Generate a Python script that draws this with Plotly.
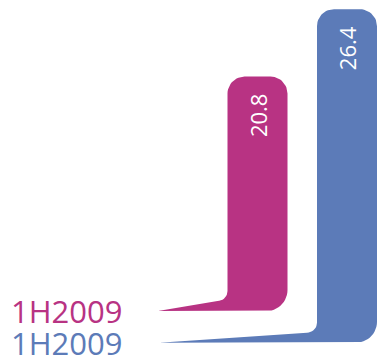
import numpy as np
import plotly.graph_objects as go

# ---- data ----
categories = ["1H2009", "1H2009"]
values = [20.8, 26.4]
colors = ["#B83383", "#5C7BB8"]

# ---- style / layout constants ----
W, H = 382, 355
px_per_unit = 12.04          # vertical scale (pixels per value unit)
zero_px = 327                # pixel row of value 0
y_min = (zero_px - H) / px_per_unit
y_max = zero_px / px_per_unit

bar_centers = [257.5, 347.0]  # x positions (pixels on a 0..W axis)
bar_width = 60
bar_bottoms = [(zero_px - 311) / px_per_unit, (zero_px - 342.7) / px_per_unit]
tail_tips = [158, 159]
r_top = 17          # top corner radius (px)
r_bot = 21          # bottom-right corner radius (px)
r_in = 10           # inner fillet radius (px)
tail_h = 10         # tail thickness at bar (px)

font = "Open Sans"

fig = go.Figure()


def arc(cx, cy, r, a0, a1, n=14):
    out = []
    for t in np.linspace(a0, a1, n):
        a = np.radians(t)
        out.append((cx + r * np.cos(a), cy + r * np.sin(a)))
    return out


def bar_path(cx, bottom, value, tip):
    """Outline of one bar (pixel offsets up from the bar bottom), converted to data units."""
    L = cx - bar_width / 2
    R = cx + bar_width / 2
    top = (value - bottom) * px_per_unit
    pts = [(tip, 0.0), (R - r_bot, 0.0)]
    pts += arc(R - r_bot, r_bot, r_bot, -90, 0)
    pts += arc(R - r_top, top - r_top, r_top, 0, 90)
    pts += arc(L + r_top, top - r_top, r_top, 90, 180)
    pts += arc(L - r_in, tail_h + r_in, r_in, 0, -90, 10)
    pts.append((tip, 0.0))
    xs = [p[0] for p in pts]
    ys = [bottom + p[1] / px_per_unit for p in pts]
    return xs, ys


for i in range(len(values)):
    xs, ys = bar_path(bar_centers[i], bar_bottoms[i], values[i], tail_tips[i])
    fig.add_trace(go.Scatter(
        x=xs, y=ys, fill="toself", fillcolor=colors[i], mode="lines",
        line=dict(width=0, color=colors[i]), hoverinfo="skip", showlegend=False,
        name=categories[i],
    ))
    fig.add_annotation(
        x=bar_centers[i], y=values[i], text=f"{values[i]:.1f}", textangle=-90,
        showarrow=False, xanchor="center", yanchor="top", yshift=-15,
        font=dict(family=font, size=22, color="white"),
    )
    fig.add_annotation(
        x=9, y=bar_bottoms[i], text=categories[i], showarrow=False,
        xanchor="left", yanchor="middle",
        font=dict(family=font, size=31, color=colors[i]),
    )

fig.update_layout(
    width=W, height=H, margin=dict(l=0, r=0, t=0, b=0),
    paper_bgcolor="white", plot_bgcolor="white",
    xaxis=dict(range=[0, W], visible=False, fixedrange=True),
    yaxis=dict(range=[y_min, y_max], visible=False, fixedrange=True),
)

fig.write_html(
    "out.html",
    config={"displayModeBar": False},
    post_script="document.body.style.margin='0';document.body.style.overflow='hidden';",
)
